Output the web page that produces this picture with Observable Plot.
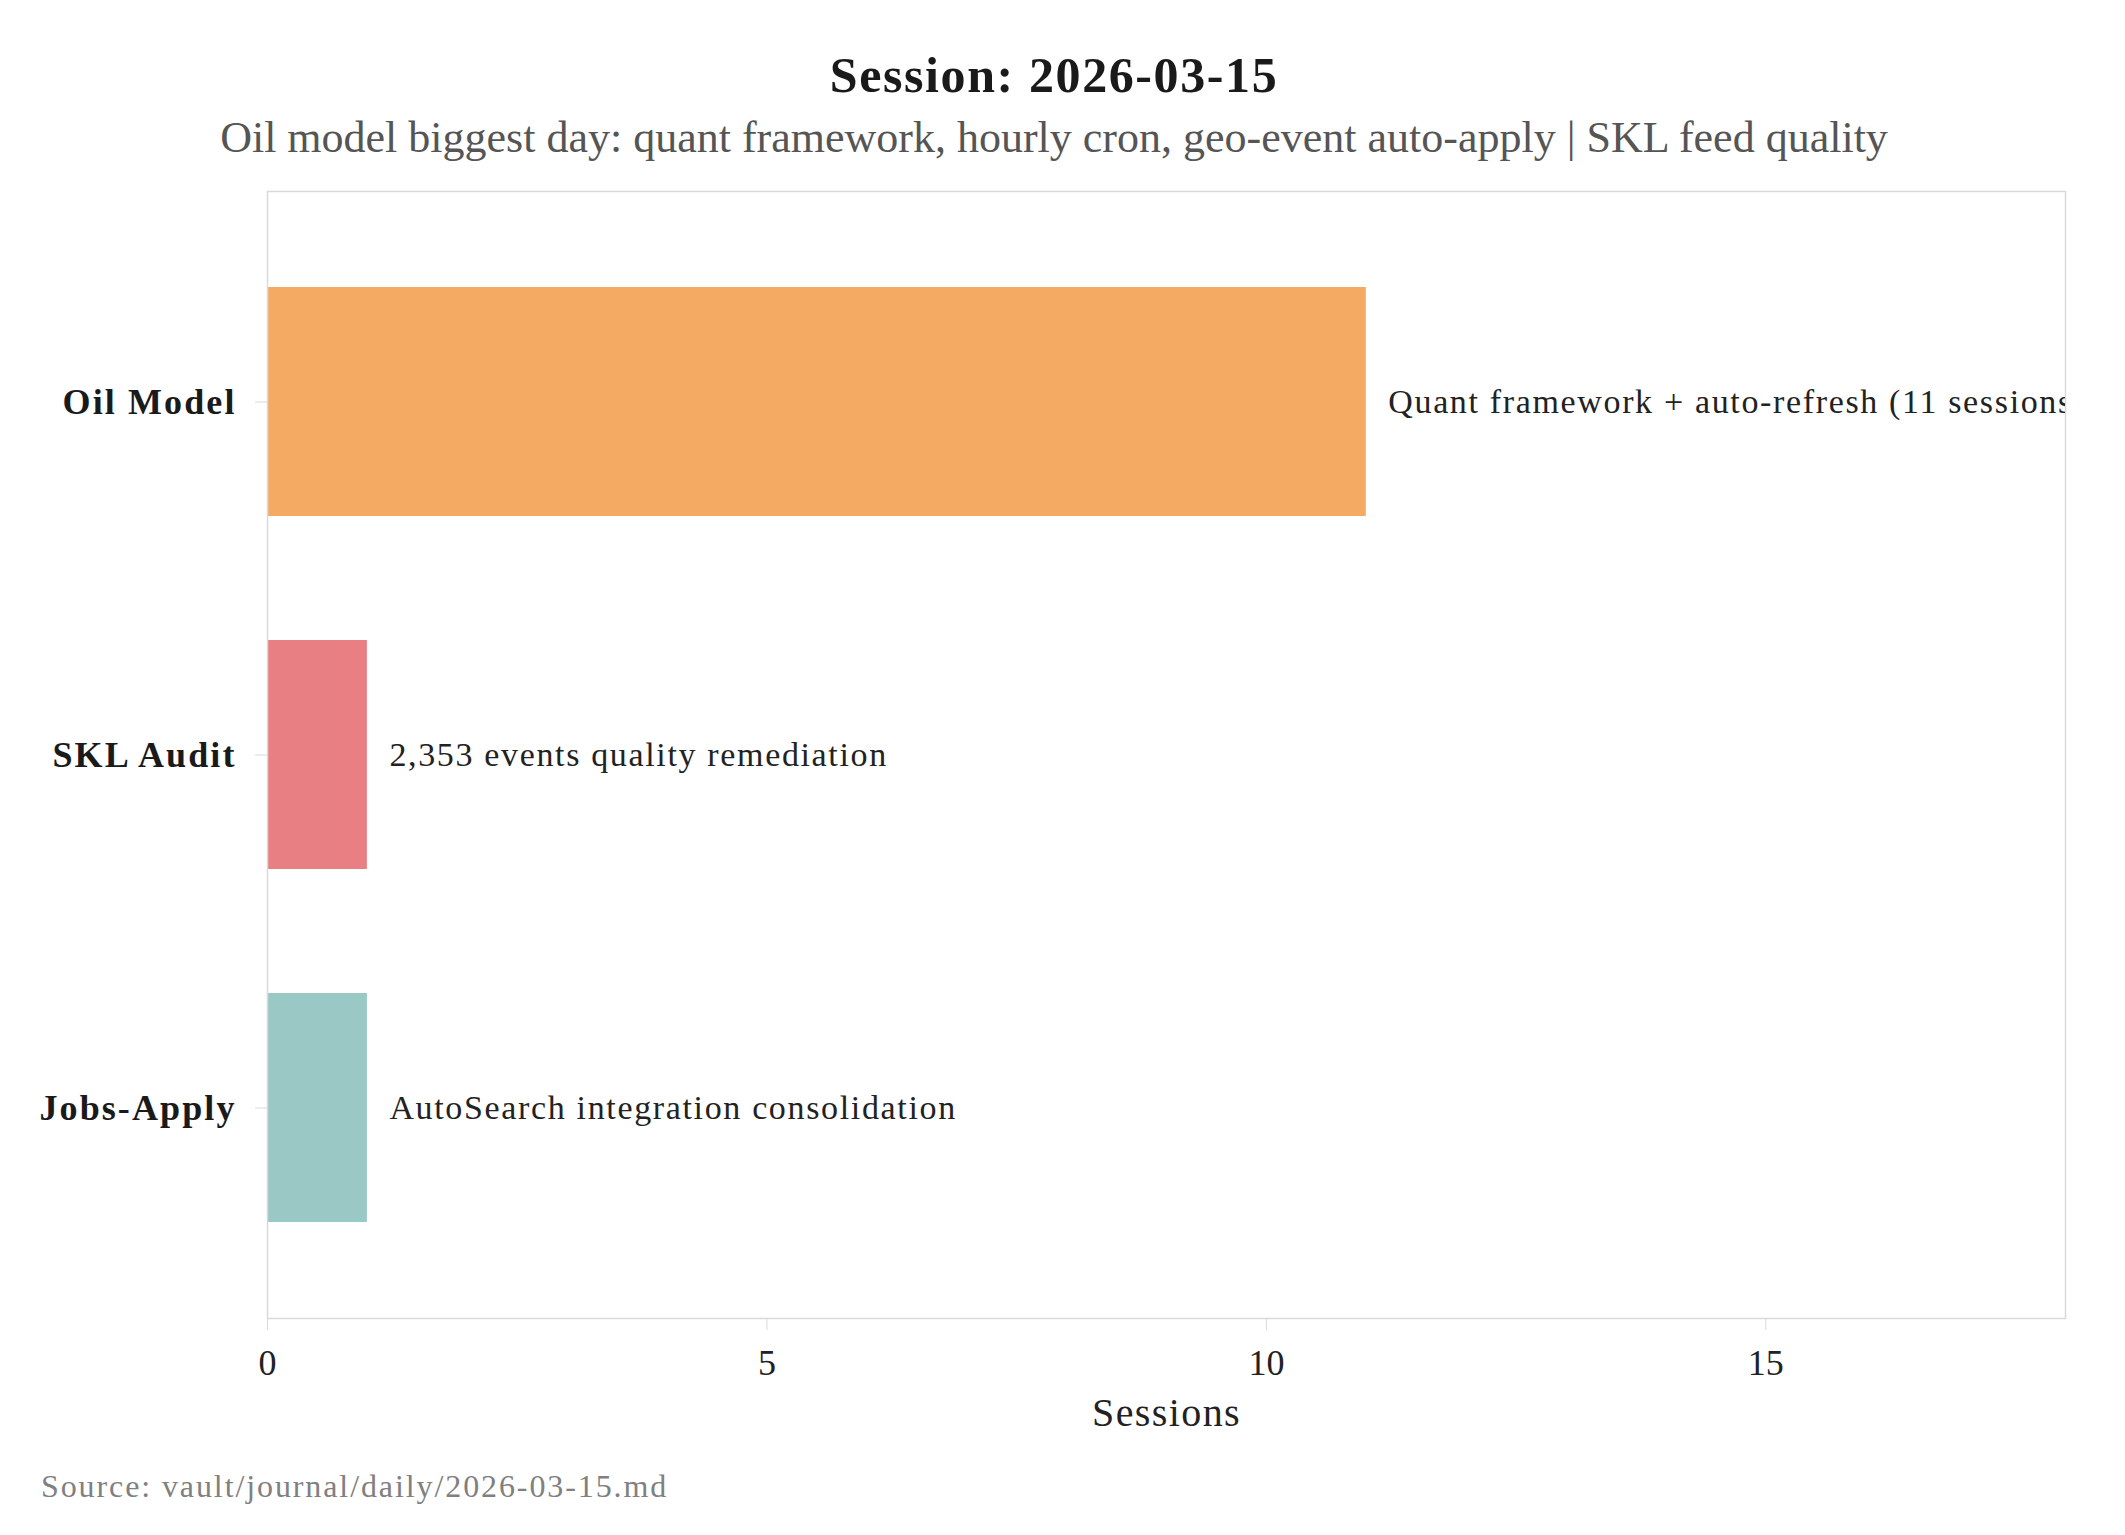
<!DOCTYPE html>
<html><head><meta charset="utf-8">
<script src="https://cdn.jsdelivr.net/npm/d3@7"></script>
<script src="https://cdn.jsdelivr.net/npm/@observablehq/plot@0.6"></script>
<style>
body{margin:0;background:#fff;width:2125px;height:1535px;position:relative;font-family:"Liberation Serif",serif;overflow:hidden;}
.t{position:absolute;left:0;width:2108px;text-align:center;white-space:nowrap;}
#title{top:50px;font-size:50px;line-height:50px;font-weight:bold;color:#1a1a1a;letter-spacing:1.6px;}
#subtitle{top:116px;font-size:44px;line-height:44px;color:#555;}
#chart{position:absolute;left:0;top:170px;}
#source{position:absolute;left:41px;top:1470px;font-size:32px;line-height:32px;color:#808080;white-space:nowrap;letter-spacing:1.9px;}
#chart g[aria-label="y-axis tick label"] text{letter-spacing:2.1px;}
#chart g[font-size="34"] text{letter-spacing:1.65px;}
#chart g[font-size="40"] text{letter-spacing:1.4px;}
</style></head><body>
<div id="title" class="t">Session: 2026-03-15</div>
<div id="subtitle" class="t">Oil model biggest day: quant framework, hourly cron, geo-event auto-apply | SKL feed quality</div>
<div id="chart"></div>
<div id="source">Source: vault/journal/daily/2026-03-15.md</div>
<script>
const categories = ["Oil Model", "SKL Audit", "Jobs-Apply"];
const sessions = [11, 1, 1];
const notes = [
  "Quant framework + auto-refresh (11 sessions)",
  "2,353 events quality remediation",
  "AutoSearch integration consolidation"
];
const colors = ["#F4AA62", "#E88083", "#9AC8C4"];
const xTicks = [0, 5, 10, 15];

const data = categories.map((c, i) => ({category: c, sessions: sessions[i], note: notes[i]}));

const chart = Plot.plot({
  width: 2125,
  height: 1280,
  marginTop: 21,
  marginLeft: 267,
  marginRight: 60,
  marginBottom: 132,
  style: {fontFamily: "Liberation Serif", background: "white", color: "#222"},
  x: {domain: [0, 18]},
  y: {domain: categories, paddingInner: 0.35, paddingOuter: 0.27},
  color: {domain: categories, range: colors},
  marks: [
    Plot.barX(data, {x: "sessions", y: "category", fill: "category"}),
    Plot.frame({stroke: "#d9d9d9", strokeWidth: 1.5}),
    Plot.text(data, {x: "sessions", y: "category", text: "note", textAnchor: "start", dx: 22, fontSize: 34, fill: "#222", clip: true}),
    Plot.axisX({ticks: xTicks, tickSize: 12, tickPadding: 19, stroke: "#d9d9d9", fill: "#222", fontSize: 36, label: null}),
    Plot.axisY({tickSize: 12, tickPadding: 19, stroke: "#d9d9d9", fill: "#1a1a1a", fontSize: 36, fontWeight: "bold", label: null}),
    Plot.text(["Sessions"], {frameAnchor: "bottom", dy: 95, fontSize: 40, fill: "#222", lineAnchor: "middle"})
  ]
});
document.getElementById("chart").appendChild(chart);
</script>
</body></html>
